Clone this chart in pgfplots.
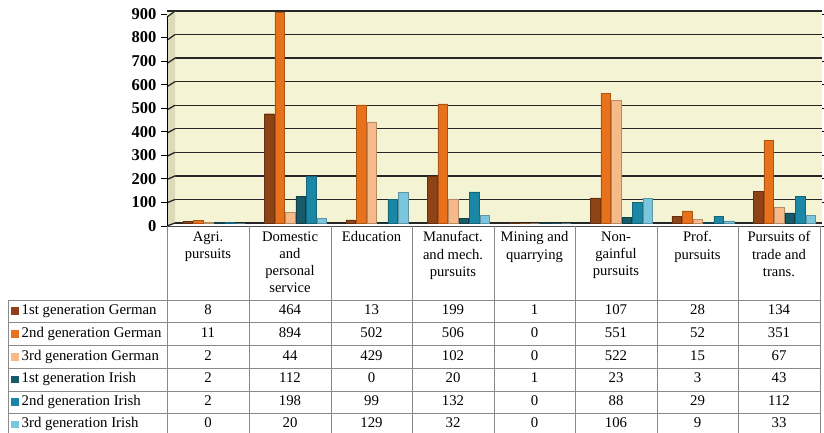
\documentclass[border=0pt]{standalone}
\usepackage{pgfplots}
\pgfplotsset{compat=1.18}
\usepackage{fontspec}
\setmainfont{Liberation Serif}
\definecolor{cA}{HTML}{8E4316}
\definecolor{cB}{HTML}{E8711C}
\definecolor{cC}{HTML}{F5B98A}
\definecolor{cD}{HTML}{175A69}
\definecolor{cE}{HTML}{1A88A5}
\definecolor{cF}{HTML}{7CC6DD}
\definecolor{wall}{HTML}{F4F3D4}
\definecolor{side}{HTML}{DCDBB9}
\definecolor{tbl}{HTML}{8A8A8A}
\begin{document}
\begin{tikzpicture}[x=1pt,y=1pt]
\useasboundingbox (0pt,0pt) rectangle (824pt,-433pt);
\begin{axis}[
  at={(167pt,-223pt)}, anchor=south west,
  scale only axis, width=655pt, height=212pt,
  xmin=-0.5, xmax=7.54, ymin=0, ymax=900,
  axis line style={draw=none},
  axis background/.style={fill=wall},
  xtick=\empty,
  ytick={0,100,...,900},
  ymajorgrids, grid style={draw=black!85, line width=1.3pt},
  tick align=outside, major tick length=6pt,
  ytick style={draw=black, line width=0.8pt, yshift=-3pt},
  yticklabel style={font=\fontsize{16.5}{18}\selectfont\bfseries, yshift=-3pt, xshift=-1pt},
  /pgf/number format/assume math mode=true,
  ybar, bar width=9.5pt,
  clip=false,
]
\addplot[fill=cA, draw=cA!70!black, bar shift=-20pt] coordinates {(0,8) (1,464) (2,13) (3,199) (4,1) (5,107) (6,28) (7,134)};
\addplot[fill=cB, draw=cB!75!black, bar shift=-9.5pt] coordinates {(0,11) (1,894) (2,502) (3,506) (4,0) (5,551) (6,52) (7,351)};
\addplot[fill=cC, draw=cC!75!black, bar shift=1pt] coordinates {(0,2) (1,44) (2,429) (3,102) (4,0) (5,522) (6,15) (7,67)};
\addplot[fill=cD, draw=cD!70!black, bar shift=11.5pt] coordinates {(0,2) (1,112) (2,0) (3,20) (4,1) (5,23) (6,3) (7,43)};
\addplot[fill=cE, draw=cE!75!black, bar shift=22pt] coordinates {(0,2) (1,198) (2,99) (3,132) (4,0) (5,88) (6,29) (7,112)};
\addplot[fill=cF, draw=cF!75!black, bar shift=32.5pt] coordinates {(0,0) (1,20) (2,129) (3,32) (4,0) (5,106) (6,9) (7,33)};
\end{axis}
% side wall
\fill[side] (167pt,-226pt) -- (175pt,-223pt) -- (175pt,-11pt) -- (167pt,-17pt) -- cycle;
\foreach \v in {0,100,...,900} {
  \draw[black!85, line width=1.3pt] (167pt,{(-226+\v*0.2322)*1pt}) -- (175pt,{(-223+\v*0.23556)*1pt});
}
\draw[black, line width=1pt] (167pt,-226pt) -- (167pt,-17pt);
\draw[black!70, line width=1pt] (167pt,-226pt) -- (822pt,-226pt);
% table grid
\begin{scope}[tbl, line width=0.7pt]
\foreach \xx in {167,249,331,412,494,575,657,738,820} \draw (\xx pt,-226pt) -- (\xx pt,-433pt);
\draw (8pt,-300pt) -- (8pt,-433pt);
\foreach \yy in {300,322.5,345.5,368,391,413.5} \draw (8pt,-\yy pt) -- (820pt,-\yy pt);
\end{scope}
% headers
\begin{scope}[every node/.style={font=\fontsize{14.6}{17.2}\selectfont, align=center, anchor=north, inner sep=0pt}]
\node at (208pt,-231.5pt) {Agri.\\pursuits};
\node at (290pt,-231.5pt) {Domestic\\and\\personal\\service};
\node at (371.5pt,-231.5pt) {Education};
\node at (453pt,-231.5pt) {Manufact.\\and mech.\\pursuits};
\node at (534.5pt,-231.5pt) {Mining and\\quarrying};
\node at (616pt,-231.5pt) {Non-\\gainful\\pursuits};
\node at (697.5pt,-231.5pt) {Prof.\\pursuits};
\node at (779pt,-231.5pt) {Pursuits of\\trade and\\trans.};
\end{scope}
% rows
\begin{scope}[every node/.style={font=\fontsize{14.8}{17}\selectfont, inner sep=0pt}]
\foreach \lab/\col/\yy/\a/\b/\c/\d/\e/\f/\g/\h in {
 1st generation German/cA/311/8/464/13/199/1/107/28/134,
 2nd generation German/cB/334/11/894/502/506/0/551/52/351,
 3rd generation German/cC/357/2/44/429/102/0/522/15/67,
 1st generation Irish/cD/379.5/2/112/0/20/1/23/3/43,
 2nd generation Irish/cE/402/2/198/99/132/0/88/29/112,
 3rd generation Irish/cF/424.5/0/20/129/32/0/106/9/33} {
  \fill[\col] (11pt,{(-\yy-3.6)*1pt}) rectangle (18.5pt,{(-\yy+3.9)*1pt});
  \node[anchor=west] at (21.5pt,-\yy pt) {\lab\strut};
  \node at (208pt,-\yy pt) {\a\strut};
  \node at (290pt,-\yy pt) {\b\strut};
  \node at (371.5pt,-\yy pt) {\c\strut};
  \node at (453pt,-\yy pt) {\d\strut};
  \node at (534.5pt,-\yy pt) {\e\strut};
  \node at (616pt,-\yy pt) {\f\strut};
  \node at (697.5pt,-\yy pt) {\g\strut};
  \node at (779pt,-\yy pt) {\h\strut};
}
\end{scope}
\end{tikzpicture}
\end{document}
